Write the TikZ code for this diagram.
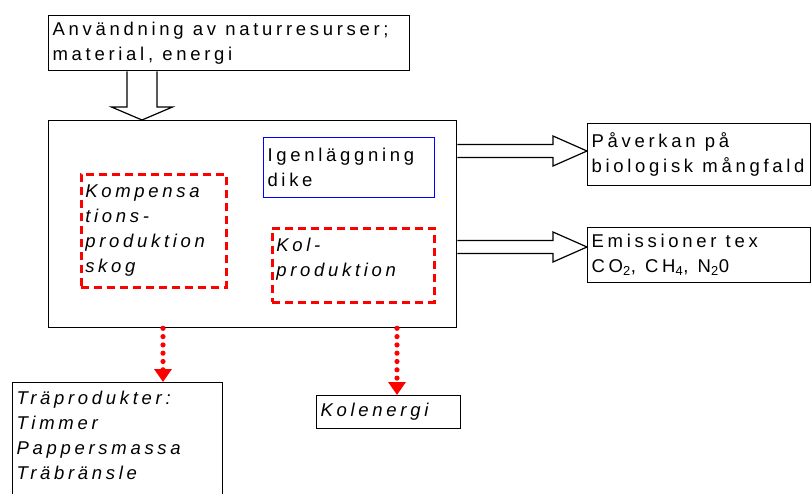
\documentclass[tikz,border=0pt]{standalone}
\usepackage{fontspec}
\setmainfont{Liberation Sans}[LetterSpace=20]
\usetikzlibrary{calc,arrows.meta}
\newcommand{\boxfont}{\fontsize{18.5}{25}\selectfont}
\newcommand{\wsp}{\hspace{0.5em}}
% hollow block arrows between boxes
\newcommand{\fatdown}[2]{%
  \draw[fatarrow] ($(#1)+(-15,0)$) -- ($(#2)+(-15,-13)$) -- ($(#2)+(-30.5,-13)$)
    -- (#2) -- ($(#2)+(30.5,-13)$) -- ($(#2)+(15,-13)$) -- ($(#1)+(15,0)$);}
\newcommand{\fatright}[2]{%
  \draw[fatarrow] ($(#1)+(0,-6.5)$) -- ($(#2)+(-34,-6.5)$) -- ($(#2)+(-34,-15)$)
    -- (#2) -- ($(#2)+(-34,15)$) -- ($(#2)+(-34,6.5)$) -- ($(#1)+(0,6.5)$);}
\begin{document}
\begin{tikzpicture}[x=1pt, y=-1pt,
    box/.style={draw, line width=1.3pt, anchor=north west, inner xsep=4pt, inner ysep=2pt,
      align=left, font=\boxfont},
    itbox/.style={box, font=\boxfont\itshape},
    redbox/.style={itbox, draw=red, line width=2.6pt, dash pattern=on 8pt off 5pt},
    fatarrow/.style={draw, line width=1.2pt, fill=white},
    dotarrow/.style={red, line width=5.2pt, line cap=round, dash pattern=on 0pt off 8.3pt,
      -{Triangle[width=17pt,length=13pt]}}]
  \useasboundingbox (0,0) rectangle (811,493);
  % boxes
  \node[box, minimum width=361, minimum height=55, text width=353] (res) at (48,15)
    {Användning\wsp av\wsp naturresurser;\\material,\wsp energi};
  \node[box, minimum width=408, minimum height=207] (main) at (48,120) {};
  \node[box, draw=blue, line width=1pt, minimum width=171, minimum height=60, text width=163] (dike) at (263,137)
    {Igenläggning\\dike};
  \node[redbox, minimum width=145, minimum height=113, text width=137] (komp) at (80,173)
    {Kompensa\\tions-\\produktion\\skog};
  \node[redbox, minimum width=162, minimum height=74, text width=154] (kol) at (271,227)
    {Kol-\\produktion\\[-8pt]\mbox{}};
  \node[box, minimum width=223, minimum height=62, text width=215] (paver) at (587,123)
    {Påverkan\wsp på\\biologisk\wsp mångfald};
  \node[box, minimum width=223, minimum height=55, text width=215] (emis) at (587,227)
    {Emissioner\wsp tex\\CO\textsubscript{2},\wsp CH\textsubscript{4},\wsp N\textsubscript{2}0};
  \node[itbox, minimum width=210, minimum height=130, text width=202] (tra) at (12,382)
    {Träprodukter:\\Timmer\\Pappersmassa\\Träbränsle\\\mbox{}};
  \node[itbox, minimum width=144, minimum height=33, text width=136] (kolen) at (316,395)
    {Kolenergi};
  % connectors
  \fatdown{$(res.south west)+(94,0)$}{$(main.north west)+(94,0)$}
  \fatright{main.east |- 0,151}{paver.west |- 0,151}
  \fatright{main.east |- 0,247}{emis.west |- 0,247}
  \draw[dotarrow] (main.south -| 163,0) -- (tra.north -| 163,0);
  \draw[dotarrow] (main.south -| 397,0) -- (kolen.north -| 397,0);
\end{tikzpicture}
\end{document}
